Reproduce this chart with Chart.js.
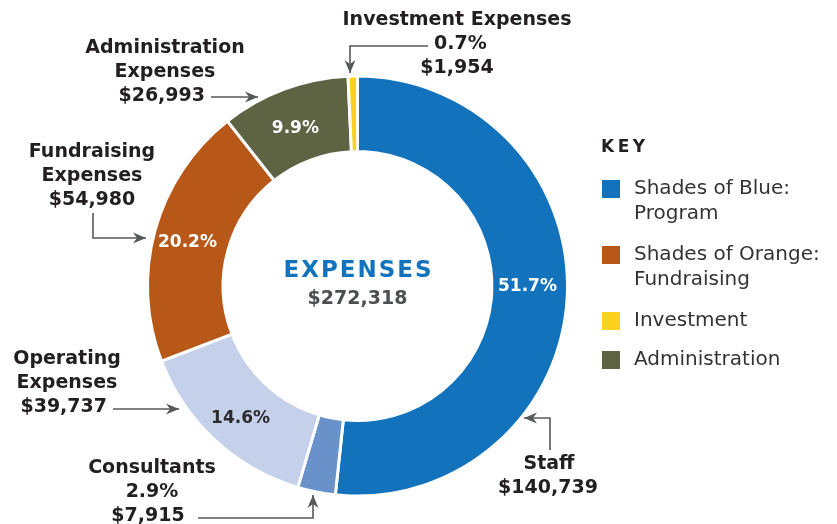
<!DOCTYPE html>
<html>
<head>
<meta charset="utf-8">
<script src="https://cdn.jsdelivr.net/npm/chart.js@4"></script>
<style>
  html, body { margin: 0; padding: 0; background: #fff; }
  #wrap { position: relative; width: 837px; height: 524px; }
</style>
</head>
<body>
<div id="wrap"><canvas id="myChart" width="837" height="524"></canvas></div>
<script>
// expense categories, clockwise from 12 o'clock
const categories = ['Staff', 'Consultants', 'Operating Expenses', 'Fundraising Expenses', 'Administration Expenses', 'Investment Expenses'];
const amounts = [140739, 7915, 39737, 54980, 26993, 1954];
const sliceColors = ['#1273bc', '#6992cb', '#c5d0ea', '#b85818', '#5e6443', '#fdd21f'];

const keyLabels = [['Shades of Blue:', 'Program'], ['Shades of Orange:', 'Fundraising'], ['Investment'], ['Administration']];
const keyColors = ['#1273bc', '#b85818', '#fdd21f', '#5e6443'];

// which slices get a % printed on the ring, and in which colour
const ringLabelColors = ['#fff', null, '#2b2b2b', '#fff', '#fff', null];
// small hand nudges for those labels (px)
const ringLabelNudge = [[-2, -9], [0, 0], [0, 6], [-4, 2], [-2, 4], [0, 0]];

const total = amounts.reduce((a, b) => a + b, 0);
const pct = v => (v / total * 100).toFixed(1) + '%';
const money = v => '$' + v.toLocaleString('en-US');

const BOLD = 'bold 19px "DejaVu Sans", sans-serif';
const INK = '#231f20';
const ARROW = '#58595b';

function arrowHead(ctx, x, y, dir) {
  const s = 13, w = 5.5, n = 4;
  ctx.beginPath();
  if (dir === 'right') { ctx.moveTo(x, y); ctx.lineTo(x - s, y - w); ctx.lineTo(x - s + n, y); ctx.lineTo(x - s, y + w); }
  if (dir === 'left') { ctx.moveTo(x, y); ctx.lineTo(x + s, y - w); ctx.lineTo(x + s - n, y); ctx.lineTo(x + s, y + w); }
  if (dir === 'down') { ctx.moveTo(x, y); ctx.lineTo(x - w, y - s); ctx.lineTo(x, y - s + n); ctx.lineTo(x + w, y - s); }
  if (dir === 'up') { ctx.moveTo(x, y); ctx.lineTo(x - w, y + s); ctx.lineTo(x, y + s - n); ctx.lineTo(x + w, y + s); }
  ctx.closePath();
  ctx.fill();
}

// lines: [text, x, align]
function textBlock(ctx, lines, y0) {
  ctx.fillStyle = INK;
  ctx.font = BOLD;
  ctx.textBaseline = 'middle';
  lines.forEach((l, i) => {
    ctx.textAlign = l[2] || 'center';
    ctx.fillText(l[0], l[1], y0 + i * 24);
  });
}

function arrow(ctx, pts, dir) {
  ctx.strokeStyle = ARROW;
  ctx.fillStyle = ARROW;
  ctx.lineWidth = 1.6;
  ctx.beginPath();
  pts.forEach((p, i) => i ? ctx.lineTo(p[0], p[1]) : ctx.moveTo(p[0], p[1]));
  ctx.stroke();
  const last = pts[pts.length - 1];
  arrowHead(ctx, last[0], last[1], dir);
}

const extras = {
  id: 'extras',
  afterDraw(chart) {
    const ctx = chart.ctx;
    const meta = chart.getDatasetMeta(0);
    ctx.save();

    // % on the ring
    ctx.font = 'bold 17px "DejaVu Sans", sans-serif';
    ctx.textAlign = 'center';
    ctx.textBaseline = 'middle';
    meta.data.forEach((arc, i) => {
      if (!ringLabelColors[i]) return;
      const p = arc.tooltipPosition();
      ctx.fillStyle = ringLabelColors[i];
      ctx.fillText(pct(amounts[i]), p.x + ringLabelNudge[i][0], p.y + ringLabelNudge[i][1]);
    });

    // centre
    const c = meta.data[0];
    ctx.fillStyle = '#1273bc';
    ctx.font = 'bold 23px "DejaVu Sans", sans-serif';
    ctx.letterSpacing = '2px';
    ctx.fillText('EXPENSES', c.x + 1, c.y - 15);
    ctx.letterSpacing = '0px';
    ctx.fillStyle = '#4d4f53';
    ctx.font = 'bold 19px "DejaVu Sans", sans-serif';
    ctx.fillText(money(total), c.x, c.y + 13);

    // callouts
    textBlock(ctx, [['Investment Expenses', 457], [pct(amounts[5]), 434, 'left'], [money(amounts[5]), 457]], 20);
    arrow(ctx, [[428, 46], [350, 46], [350, 73]], 'down');

    textBlock(ctx, [['Administration', 165], ['Expenses', 165], [money(amounts[4]), 205, 'right']], 48);
    arrow(ctx, [[211, 97], [258, 97]], 'right');

    textBlock(ctx, [['Fundraising', 92], ['Expenses', 92], [money(amounts[3]), 92]], 152);
    arrow(ctx, [[93, 213], [93, 238], [146, 238]], 'right');

    textBlock(ctx, [['Operating', 67], ['Expenses', 67], [money(amounts[2]), 107, 'right']], 359);
    arrow(ctx, [[113, 409], [179, 409]], 'right');

    textBlock(ctx, [['Consultants', 152], [pct(amounts[1]), 152], [money(amounts[1]), 148]], 468);
    arrow(ctx, [[198, 518], [313, 518], [313, 495]], 'up');

    textBlock(ctx, [['Staff', 549], [money(amounts[0]), 548]], 464);
    arrow(ctx, [[550, 450], [550, 418], [524, 418]], 'left');

    // key
    ctx.textAlign = 'left';
    ctx.fillStyle = INK;
    ctx.font = 'bold 17px "DejaVu Sans", sans-serif';
    ctx.letterSpacing = '3.5px';
    ctx.fillText('KEY', 601, 148);
    ctx.letterSpacing = '0px';
    ctx.font = '20px "DejaVu Sans", sans-serif';
    const rows = [189, 255, 321, 360];
    keyLabels.forEach((lab, i) => {
      ctx.fillStyle = keyColors[i];
      ctx.fillRect(602, rows[i] - 9, 18, 18);
      ctx.fillStyle = '#333';
      lab.forEach((t, j) => ctx.fillText(t, 634, rows[i] + j * 25));
    });
    ctx.restore();
  }
};

new Chart(document.getElementById('myChart'), {
  type: 'doughnut',
  data: {
    labels: categories,
    datasets: [{
      data: amounts,
      backgroundColor: sliceColors,
      borderColor: '#fff',
      borderWidth: 3
    }]
  },
  options: {
    responsive: false,
    animation: false,
    cutout: '64%',
    layout: { padding: { left: 146, right: 268, top: 74, bottom: 26 } },
    plugins: { legend: { display: false }, tooltip: { enabled: false } }
  },
  plugins: [extras]
});
</script>
</body>
</html>
